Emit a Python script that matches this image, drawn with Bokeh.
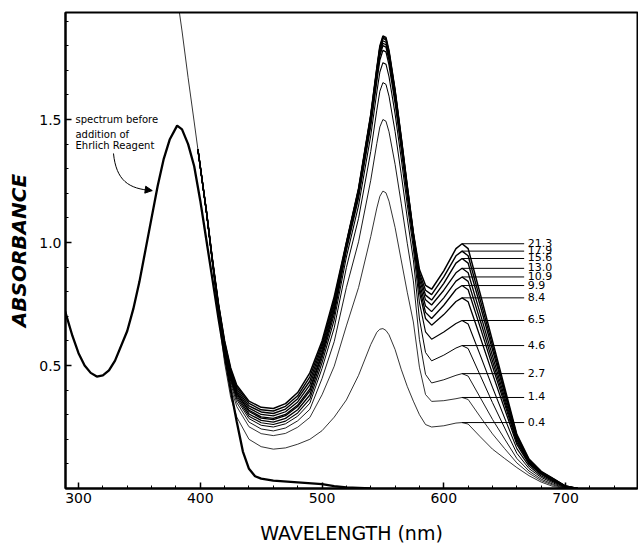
from bokeh.plotting import figure
from bokeh.models import FixedTicker, Range1d, Label, Arrow, NormalHead, ColumnDataSource, LabelSet
from bokeh.embed import file_html
from bokeh.resources import INLINE
from bokeh.core.properties import value

# ---- data -----------------------------------------------------------------
# spectrum before addition of Ehrlich reagent
before_nm = [289, 295, 300, 305, 310, 315, 320, 325, 330, 340, 345, 350, 355, 360, 365, 370, 375, 381,
             385, 390, 395, 400, 405, 410, 415, 420, 425, 430, 435, 440, 445, 450, 460, 480, 500, 510, 520, 540]
before_abs = [0.72, 0.62, 0.55, 0.50, 0.47, 0.455, 0.46, 0.48, 0.52, 0.64, 0.73, 0.84, 0.97, 1.10, 1.23, 1.34, 1.42, 1.475,
              1.46, 1.40, 1.31, 1.17, 1.01, 0.85, 0.69, 0.54, 0.40, 0.27, 0.15, 0.08, 0.05, 0.04, 0.032, 0.025, 0.018, 0.01, 0.004, 0.0]

# common wavelength grid of the reagent spectra
grid_nm = [398, 405, 410, 415, 420, 425, 430, 440, 450, 460, 470, 480, 490, 500, 510, 520, 530, 540, 545, 547.5, 550, 552.5,
           555, 560, 565, 570, 575, 580, 585, 590, 600, 610, 615, 620, 630, 640, 650, 660, 670, 680, 690, 700, 710]

# early part of the 0.4 spectrum (thin line running off the top)
uv_nm_04 = [381, 385, 390, 395]
uv_abs_04 = [2.0, 1.86, 1.67, 1.49]

abs_04 = [1.38, 1.12, 0.91, 0.70, 0.51, 0.37, 0.29, 0.20, 0.17, 0.16, 0.165, 0.18, 0.20, 0.235, 0.29, 0.36, 0.46, 0.585, 0.635, 0.6475, 0.65, 0.6425,
          0.625, 0.565, 0.485, 0.415, 0.355, 0.30, 0.26, 0.25, 0.255, 0.266, 0.268, 0.262, 0.21, 0.16, 0.122, 0.085, 0.052, 0.026, 0.008, 0.0, 0.0]
abs_14 = [1.38, 1.123, 0.917, 0.717, 0.540, 0.410, 0.333, 0.251, 0.223, 0.215, 0.224, 0.249, 0.289, 0.381, 0.497, 0.661, 0.817, 1.024, 1.140, 1.188, 1.209, 1.202,
          1.168, 1.061, 0.929, 0.798, 0.677, 0.493, 0.382, 0.354, 0.357, 0.365, 0.370, 0.362, 0.291, 0.222, 0.162, 0.104, 0.062, 0.032, 0.013, 0.001, 0.0]
abs_27 = [1.38, 1.125, 0.919, 0.723, 0.551, 0.424, 0.349, 0.270, 0.242, 0.234, 0.246, 0.275, 0.322, 0.447, 0.597, 0.817, 1.003, 1.253, 1.403, 1.470, 1.500, 1.493,
          1.450, 1.318, 1.160, 0.997, 0.844, 0.605, 0.464, 0.429, 0.442, 0.460, 0.467, 0.457, 0.369, 0.281, 0.201, 0.122, 0.071, 0.038, 0.017, 0.003, 0.0]
abs_46 = [1.38, 1.125, 0.921, 0.727, 0.559, 0.435, 0.361, 0.284, 0.257, 0.250, 0.263, 0.294, 0.347, 0.488, 0.653, 0.898, 1.098, 1.370, 1.538, 1.615, 1.650, 1.643,
          1.595, 1.451, 1.279, 1.100, 0.930, 0.689, 0.553, 0.519, 0.542, 0.571, 0.581, 0.569, 0.459, 0.349, 0.246, 0.143, 0.081, 0.045, 0.022, 0.004, 0.0]
abs_65 = [1.38, 1.126, 0.922, 0.730, 0.565, 0.443, 0.369, 0.294, 0.267, 0.260, 0.274, 0.307, 0.364, 0.511, 0.686, 0.941, 1.150, 1.434, 1.611, 1.693, 1.731, 1.725,
          1.674, 1.523, 1.343, 1.155, 0.977, 0.756, 0.637, 0.607, 0.636, 0.671, 0.683, 0.669, 0.541, 0.411, 0.286, 0.162, 0.091, 0.051, 0.026, 0.006, 0.0]
abs_84 = [1.38, 1.127, 0.923, 0.733, 0.570, 0.450, 0.377, 0.303, 0.277, 0.270, 0.285, 0.320, 0.380, 0.530, 0.709, 0.968, 1.182, 1.473, 1.656, 1.742, 1.781, 1.775,
          1.722, 1.567, 1.383, 1.189, 1.006, 0.798, 0.691, 0.664, 0.707, 0.760, 0.775, 0.759, 0.614, 0.467, 0.323, 0.179, 0.099, 0.057, 0.030, 0.007, 0.0]
abs_99 = [1.38, 1.127, 0.925, 0.736, 0.575, 0.457, 0.385, 0.313, 0.286, 0.280, 0.296, 0.333, 0.396, 0.544, 0.724, 0.978, 1.194, 1.488, 1.673, 1.760, 1.800, 1.794,
          1.741, 1.584, 1.398, 1.202, 1.017, 0.817, 0.716, 0.691, 0.745, 0.809, 0.825, 0.808, 0.654, 0.497, 0.343, 0.188, 0.104, 0.060, 0.032, 0.008, 0.0]
abs_109 = [1.38, 1.128, 0.925, 0.738, 0.578, 0.461, 0.389, 0.318, 0.291, 0.285, 0.301, 0.339, 0.405, 0.551, 0.732, 0.984, 1.201, 1.497, 1.683, 1.770, 1.810, 1.804,
           1.751, 1.594, 1.406, 1.210, 1.023, 0.835, 0.742, 0.719, 0.775, 0.843, 0.860, 0.842, 0.682, 0.518, 0.356, 0.195, 0.107, 0.062, 0.034, 0.008, 0.0]
abs_130 = [1.38, 1.128, 0.926, 0.741, 0.584, 0.468, 0.396, 0.327, 0.301, 0.295, 0.312, 0.352, 0.421, 0.564, 0.745, 0.989, 1.207, 1.504, 1.692, 1.780, 1.820, 1.814,
           1.760, 1.602, 1.414, 1.216, 1.028, 0.851, 0.767, 0.746, 0.806, 0.877, 0.895, 0.877, 0.710, 0.539, 0.370, 0.201, 0.111, 0.064, 0.036, 0.009, 0.0]
abs_156 = [1.38, 1.129, 0.928, 0.744, 0.589, 0.476, 0.404, 0.336, 0.311, 0.305, 0.323, 0.365, 0.437, 0.577, 0.758, 0.995, 1.214, 1.513, 1.701, 1.789, 1.830, 1.824,
           1.771, 1.612, 1.422, 1.224, 1.035, 0.865, 0.786, 0.766, 0.834, 0.916, 0.935, 0.916, 0.742, 0.564, 0.386, 0.209, 0.114, 0.066, 0.037, 0.009, 0.0]
abs_179 = [1.38, 1.129, 0.929, 0.747, 0.595, 0.483, 0.412, 0.346, 0.320, 0.315, 0.334, 0.377, 0.454, 0.588, 0.769, 0.997, 1.217, 1.516, 1.706, 1.794, 1.835, 1.829,
           1.775, 1.616, 1.426, 1.227, 1.037, 0.877, 0.806, 0.788, 0.860, 0.946, 0.965, 0.946, 0.766, 0.582, 0.398, 0.215, 0.117, 0.068, 0.039, 0.010, 0.0]
abs_213 = [1.38, 1.13, 0.93, 0.75, 0.60, 0.49, 0.42, 0.355, 0.33, 0.325, 0.345, 0.39, 0.47, 0.60, 0.78, 1.00, 1.22, 1.52, 1.71, 1.799, 1.84, 1.834,
           1.78, 1.62, 1.43, 1.23, 1.04, 0.89, 0.826, 0.81, 0.885, 0.975, 0.995, 0.975, 0.79, 0.60, 0.41, 0.22, 0.12, 0.07, 0.04, 0.01, 0.0]

# curve labels and the absorbance at which each leader line is drawn
curve_labels = ["21.3", "17.9", "15.6", "13.0", "10.9", "9.9", "8.4", "6.5", "4.6", "2.7", "1.4", "0.4"]
label_abs = [0.995, 0.965, 0.935, 0.895, 0.860, 0.825, 0.775, 0.683, 0.581, 0.467, 0.370, 0.268]

x_ticks = [300, 400, 500, 600, 700]
x_minor = list(range(300, 761, 20))
y_ticks = [0.5, 1.0, 1.5]
y_tick_text = {0.5: "0.5", 1.0: "1.0", 1.5: "1.5"}
y_minor = [round(0.1 * i, 1) for i in range(1, 20)]

# ---- figure --------------------------------------------------------------
FONT = "DejaVu Sans"
p = figure(width=638, height=550, output_backend="svg", toolbar_location=None,
           x_range=Range1d(289.3, 759.1), y_range=Range1d(0, 1.935),
           min_border_left=65, min_border_right=1, min_border_top=12, min_border_bottom=62)
p.grid.visible = False
p.background_fill_color = "white"
p.border_fill_color = "white"
p.outline_line_color = "black"
p.outline_line_width = 2

for ax in (p.xaxis[0], p.yaxis[0]):
    ax.axis_line_width = 2
    ax.axis_line_color = "black"
    ax.major_tick_in = 6
    ax.major_tick_out = 0
    ax.minor_tick_in = 3
    ax.minor_tick_out = 0
    ax.major_tick_line_width = 1.5
    ax.major_label_text_font = FONT
    ax.major_label_text_font_size = "14px"
    ax.major_label_text_color = "black"
    ax.axis_label_text_font = FONT
    ax.axis_label_text_color = "black"

p.xaxis.ticker = FixedTicker(ticks=x_ticks, minor_ticks=x_minor)
p.yaxis.ticker = FixedTicker(ticks=y_ticks, minor_ticks=y_minor)
p.yaxis.major_label_overrides = y_tick_text
p.xaxis.major_label_standoff = 4
p.yaxis.major_label_standoff = 4
p.xaxis.axis_label = "WAVELENGTH (nm)"
p.xaxis.axis_label_text_font_size = "19px"
p.xaxis.axis_label_text_font_style = "normal"
p.xaxis.axis_label_standoff = 16
p.yaxis.axis_label = "ABSORBANCE"
p.yaxis.axis_label_text_font_size = "20px"
p.yaxis.axis_label_text_font_style = "bold italic"
p.yaxis.axis_label_standoff = 5

# spectra
p.line(before_nm, before_abs, line_color="black", line_width=2.3)
p.line(uv_nm_04 + grid_nm, uv_abs_04 + abs_04, line_color="black", line_width=0.8)
series = [(abs_14, 0.8), (abs_27, 0.9), (abs_46, 1.0), (abs_65, 1.1), (abs_84, 1.3), (abs_99, 1.3),
          (abs_109, 1.3), (abs_130, 1.3), (abs_156, 1.4), (abs_179, 1.4), (abs_213, 1.5)]
for vals, lw in series:
    p.line(grid_nm, vals, line_color="black", line_width=lw)

# leader lines and labels
leader_start_nm = 615
leader_end_nm = 666
label_nm = 669
src = ColumnDataSource(dict(x0=[leader_start_nm] * len(label_abs), x1=[leader_end_nm] * len(label_abs),
                            xl=[label_nm] * len(label_abs), y=label_abs, text=curve_labels))
p.segment(x0="x0", y0="y", x1="x1", y1="y", source=src, line_color="black", line_width=1)
p.add_layout(LabelSet(x="xl", y="y", text="text", source=src, text_baseline="middle", y_offset=1,
                      text_font=value(FONT), text_font_size="11px", text_color="black"))

# annotation with curved arrow
note_lines = ["spectrum before", "addition of", "Ehrlich Reagent"]
note_x = 297.5
note_y = [1.50, 1.44, 1.395]
for txt, ny in zip(note_lines, note_y):
    p.add_layout(Label(x=note_x, y=ny, text=txt, text_font=FONT, text_font_size="10px",
                       text_color="black", text_baseline="middle"))
arrow_start = (328.7, 1.362)
arrow_c0 = (331.0, 1.252)
arrow_c1 = (341.0, 1.218)
arrow_tip = (360.5, 1.211)
p.bezier(x0=[arrow_start[0]], y0=[arrow_start[1]], x1=[arrow_tip[0]], y1=[arrow_tip[1]],
         cx0=[arrow_c0[0]], cy0=[arrow_c0[1]], cx1=[arrow_c1[0]], cy1=[arrow_c1[1]],
         line_color="black", line_width=1)
p.add_layout(Arrow(end=NormalHead(size=7, fill_color="black", line_color="black"),
                   x_start=arrow_tip[0] - 3, y_start=arrow_tip[1] + 0.002,
                   x_end=arrow_tip[0], y_end=arrow_tip[1], line_color="black", line_width=1))

open("out.html", "w").write(file_html(p, INLINE))
